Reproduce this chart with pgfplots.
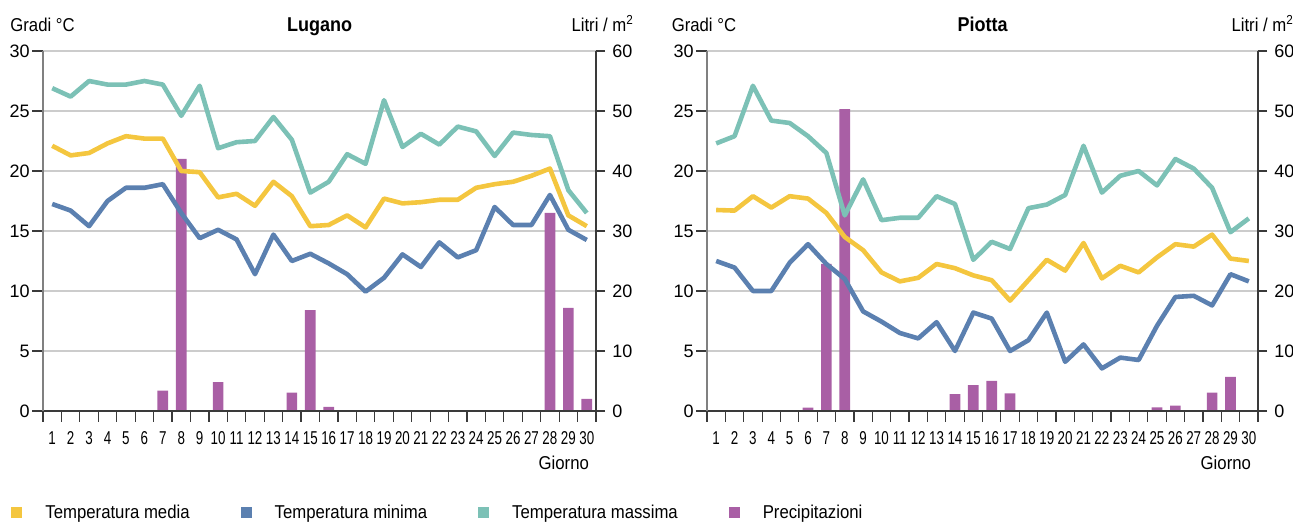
\documentclass[border=0pt]{standalone}
\usepackage{fontspec}
\setmainfont{Liberation Sans}[FakeStretch=0.9]
\newfontfamily\xtfam{Liberation Sans}[FakeStretch=0.72]
\newfontfamily\ytfam{Liberation Sans}
\usepackage{pgfplots}
\usepackage{pgfplotstable}
\pgfplotsset{compat=1.18}
\definecolor{cmedia}{HTML}{F4C63F}
\definecolor{cmin}{HTML}{5B80B0}
\definecolor{cmax}{HTML}{7CC1B6}
\definecolor{cprec}{HTML}{A95FA5}
\definecolor{cgrid}{HTML}{CCCCCC}
\definecolor{caxis}{HTML}{3A3A3A}
\newcommand\xtfont{\xtfam\fontsize{9.3pt}{11pt}\selectfont}
\newcommand\ytfont{\ytfam\fontsize{9pt}{11pt}\selectfont}

\pgfplotstableread{
day max media min prec
1 26.9 22.1 17.25 0
2 26.2 21.3 16.7 0
3 27.5 21.5 15.4 0
4 27.2 22.3 17.5 0
5 27.2 22.9 18.6 0
6 27.5 22.7 18.6 0
7 27.2 22.7 18.9 3.4
8 24.6 20.0 16.5 42
9 27.1 19.9 14.4 0
10 21.9 17.8 15.1 4.8
11 22.4 18.1 14.3 0
12 22.5 17.1 11.4 0
13 24.5 19.1 14.7 0
14 22.6 17.9 12.5 3.05
15 18.2 15.4 13.1 16.8
16 19.1 15.5 12.3 0.7
17 21.4 16.3 11.4 0
18 20.6 15.3 9.95 0
19 25.9 17.7 11.1 0
20 22.0 17.3 13.05 0
21 23.1 17.4 12.0 0
22 22.2 17.6 14.05 0
23 23.7 17.6 12.8 0
24 23.3 18.6 13.4 0
25 21.25 18.9 17.0 0
26 23.2 19.1 15.5 0
27 23.0 19.6 15.5 0
28 22.9 20.2 18.0 33
29 18.4 16.3 15.1 17.2
30 16.5 15.4 14.25 2.0
}\lugano

\pgfplotstableread{
day max media min prec
1 22.3 16.75 12.5 0
2 22.9 16.7 11.95 0
3 27.1 17.9 10.0 0
4 24.2 16.95 10.0 0
5 24.0 17.9 12.35 0
6 22.9 17.7 13.9 0.55
7 21.5 16.5 12.25 24.5
8 16.3 14.5 11.0 50.3
9 19.3 13.4 8.3 0
10 15.9 11.55 7.45 0
11 16.1 10.8 6.5 0
12 16.1 11.1 6.05 0
13 17.9 12.25 7.4 0
14 17.25 11.9 5.0 2.8
15 12.6 11.3 8.2 4.3
16 14.1 10.9 7.7 5.0
17 13.5 9.2 5.0 2.95
18 16.9 10.9 5.9 0
19 17.2 12.6 8.2 0
20 18.0 11.7 4.1 0
21 22.1 14.0 5.55 0
22 18.2 11.05 3.55 0
23 19.6 12.1 4.45 0
24 20.0 11.55 4.25 0
25 18.8 12.8 7.1 0.6
26 21.0 13.9 9.5 0.9
27 20.2 13.7 9.6 0.1
28 18.6 14.7 8.8 3.05
29 14.9 12.7 11.4 5.7
30 16.05 12.5 10.8 0
}\piotta

\pgfplotsset{
  precax/.style={scale only axis, anchor=south west, width=#1, height=180pt,
    xmin=0.5, xmax=30.5, ymin=0, ymax=60,
    axis y line*=right, axis x line=none,
    ytick={0,10,...,60}, ymajorgrids,
    grid style={draw=cgrid, line width=0.6pt},
    tick align=outside, major tick length=4.5pt,
    ytick style={draw=caxis, line width=0.6pt},
    y axis line style={draw=caxis, line width=0.6pt},
    yticklabel style={font=\ytfont, inner sep=0pt, xshift=3.5pt},
    /pgf/number format/assume math mode=true,
    ybar, bar width=5.35pt},
  tempax/.style={scale only axis, anchor=south west, width=#1, height=180pt,
    xmin=0.5, xmax=30.5, ymin=0, ymax=30, clip mode=individual,
    axis y line*=left, axis x line*=bottom,
    ytick={0,5,...,30}, xtick={1,...,30},
    minor xtick={0.5,1.5,...,30.5},
    tick align=outside, major tick length=5.5pt, minor tick length=5.5pt,
    major x tick style={draw=none},
    minor x tick style={draw=caxis, line width=0.6pt},
    ytick style={draw=caxis, line width=0.6pt},
    y axis line style={draw=gray, line width=0.7pt},
    x axis line style={draw=caxis, line width=0.7pt},
    xticklabel style={font=\xtfont, anchor=base, yshift=-11.5pt},
    yticklabel style={font=\ytfont, inner sep=0pt, xshift=-1pt},
    /pgf/number format/assume math mode=true},
  tline/.style={line width=2.3pt, line join=round, mark=none}
}

\begin{document}
\begin{tikzpicture}[font=\fontsize{9.3pt}{11pt}\selectfont]
\useasboundingbox (0,0) rectangle (646.5pt,261pt);

% ---------- Lugano ----------
\begin{axis}[precax=276.5pt, at={(21.5pt,55.5pt)}]
\addplot[fill=cprec, draw=none] table[x=day, y=prec] {\lugano};
\end{axis}
\begin{axis}[tempax=276.5pt, at={(21.5pt,55.5pt)},
  legend style={at={(-0.0578,-0.2833)}, anchor=west, draw=none, fill=none,
    legend columns=4, inner sep=0pt, nodes={inner sep=0pt},
    /tikz/every even column/.append style={column sep=25.5pt}},
  legend image code/.code={\fill[#1, draw=none] (0pt,-2.75pt) rectangle (5.5pt,2.75pt); \path[draw=none,fill=none] (0pt,0pt) -- (17pt,0pt);}]
\addplot[tline, color=cmax, forget plot] table[x=day, y=max] {\lugano};
\addplot[tline, color=cmedia, forget plot] table[x=day, y=media] {\lugano};
\addplot[tline, color=cmin, forget plot] table[x=day, y=min] {\lugano};
\addlegendimage{fill=cmedia, draw=none}\addlegendentry{Temperatura media}
\addlegendimage{fill=cmin, draw=none}\addlegendentry{Temperatura minima}
\addlegendimage{fill=cmax, draw=none}\addlegendentry{Temperatura massima}
\addlegendimage{fill=cprec, draw=none}\addlegendentry{Precipitazioni}
\node[font=\bfseries, anchor=base] at (rel axis cs:0.5,1) [yshift=9.5pt] {Lugano};
\node[anchor=base west] at (rel axis cs:0,1) [xshift=-19.85pt, yshift=9.5pt] {Gradi °C};
\node[anchor=base east] at (rel axis cs:1,1) [xshift=22.5pt, yshift=9.5pt] {Litri / m\textsuperscript{2}};
\node[anchor=base east] at (rel axis cs:1,0) [yshift=-29.5pt] {Giorno};
\end{axis}

% ---------- Piotta ----------
\begin{axis}[precax=275.5pt, at={(353.5pt,55.5pt)}]
\addplot[fill=cprec, draw=none] table[x=day, y=prec] {\piotta};
\end{axis}
\begin{axis}[tempax=275.5pt, at={(353.5pt,55.5pt)}]
\addplot[tline, color=cmax] table[x=day, y=max] {\piotta};
\addplot[tline, color=cmedia] table[x=day, y=media] {\piotta};
\addplot[tline, color=cmin] table[x=day, y=min] {\piotta};
\node[font=\bfseries, anchor=base] at (rel axis cs:0.5,1) [yshift=9.5pt] {Piotta};
\node[anchor=base west] at (rel axis cs:0,1) [xshift=-21.15pt, yshift=9.5pt] {Gradi °C};
\node[anchor=base east] at (rel axis cs:1,1) [xshift=21.5pt, yshift=9.5pt] {Litri / m\textsuperscript{2}};
\node[anchor=base east] at (rel axis cs:1,0) [yshift=-29.5pt] {Giorno};
\end{axis}
\end{tikzpicture}
\end{document}
